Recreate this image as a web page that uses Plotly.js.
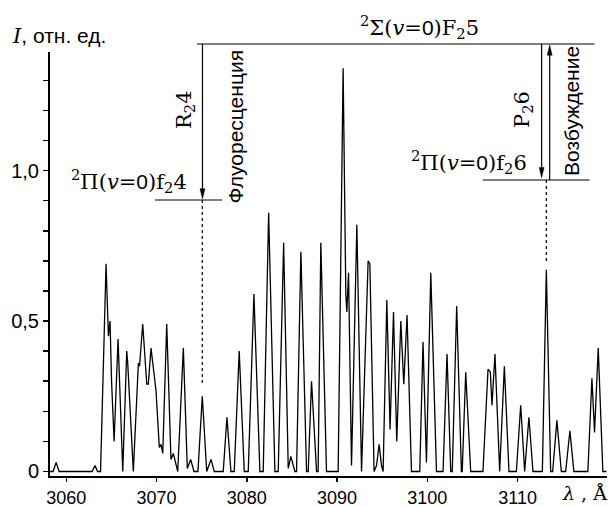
<!DOCTYPE html>
<html>
<head>
<meta charset="utf-8">
<script src="https://cdn.plot.ly/plotly-3.0.1.min.js"></script>
<style>html,body{margin:0;padding:0;background:#fff;}#chart{width:609px;height:507px;}</style>
</head>
<body>
<div id="chart"></div>
<script>
// Wavelength, Å
const wavelength = [3058.21, 3058.54, 3058.88, 3059.21, 3062.86, 3063.19, 3063.47, 3063.80, 3064.41, 3064.67,
  3064.85, 3065.02, 3065.30, 3065.74, 3066.26, 3066.70, 3066.81, 3067.43, 3067.99, 3068.12,
  3068.47, 3068.92, 3069.09, 3069.39, 3069.94, 3070.31, 3070.50, 3070.69, 3071.13, 3071.60,
  3071.86, 3072.35, 3072.97, 3073.41, 3073.78, 3074.15, 3074.59, 3075.07, 3075.56, 3076.03,
  3076.40, 3077.39, 3077.80, 3078.24, 3078.61, 3079.16, 3079.72, 3080.16, 3080.79, 3081.45,
  3081.82, 3082.42, 3083.11, 3083.48, 3084.08, 3084.59, 3084.88, 3085.33, 3085.51, 3085.99,
  3086.62, 3086.80, 3087.17, 3087.73, 3087.90, 3088.20, 3088.83, 3090.12, 3090.67, 3090.97,
  3091.08, 3091.27, 3091.60, 3092.19, 3092.71, 3093.44, 3093.63, 3094.10, 3094.37, 3094.66,
  3094.92, 3095.10, 3095.51, 3095.87, 3096.25, 3096.61, 3097.06, 3097.39, 3097.75, 3098.24,
  3099.16, 3099.52, 3099.90, 3100.38, 3101.01, 3101.74, 3102.18, 3102.59, 3102.76, 3103.25,
  3103.77, 3103.86, 3104.25, 3104.80, 3106.16, 3106.72, 3106.98, 3107.16, 3107.49, 3108.01,
  3108.53, 3109.04, 3109.86, 3110.34, 3110.78, 3111.25, 3111.70, 3112.74, 3113.18, 3113.66,
  3113.88, 3114.35, 3114.84, 3115.32, 3115.79, 3116.23, 3117.78, 3118.23, 3118.52, 3118.93,
  3119.44, 3119.85];
// Intensity, rel. units
const intensity = [0, 0, 0.03, 0, 0, 0.02, 0, 0, 0.69, 0.45,
  0.50, 0.30, 0.10, 0.44, 0, 0.40, 0.36, 0, 0.36, 0.35,
  0.49, 0.29, 0.29, 0.41, 0.27, 0.08, 0.09, 0.06, 0.49, 0.04,
  0.06, 0, 0.41, 0.01, 0.04, 0, 0, 0.25, 0, 0.04,
  0, 0, 0.18, 0, 0, 0.40, 0, 0, 0.59, 0,
  0, 0.86, 0, 0, 0.76, 0.01, 0.05, 0, 0, 0.73,
  0, 0, 0.30, 0, 0, 0.76, 0, 0, 1.34, 0.59,
  0.53, 0.66, 0.02, 0.82, 0, 0.70, 0.69, 0, 0.02, 0.09,
  0.02, 0, 0.57, 0.14, 0.53, 0.10, 0.50, 0.29, 0.52, 0,
  0, 0.43, 0.03, 0.66, 0, 0, 0.39, 0, 0, 0.55,
  0, 0, 0.33, 0, 0, 0.34, 0.33, 0.22, 0.39, 0,
  0.35, 0, 0, 0.22, 0, 0.18, 0, 0, 0.67, 0,
  0, 0.17, 0, 0, 0.135, 0, 0, 0.31, 0.13, 0.41,
  0, 0];

const xTickVals = [3060, 3070, 3080, 3090, 3100, 3110];
const xTickText = ['3060', '3070', '3080', '3090', '3100', '3110'];
const yTickVals = [0, 0.5, 1.0];
const yTickText = ['0', '0,5', '1,0'];

// marked lines (fluorescence / excitation)
const fluorLine = 3075.07;
const excLine = 3113.18;

const SANS = 'Liberation Sans, Arial, sans-serif';
const SERIF = 'DejaVu Serif, Liberation Serif, serif';

const trace = {
  x: wavelength, y: intensity, type: 'scatter', mode: 'lines',
  line: {color: '#000', width: 1.3}, hoverinfo: 'skip'
};

function ln(x0, y0, x1, y1, dash) {
  return {type: 'line', xref: 'x', yref: 'paper', x0: x0, y0: y0, x1: x1, y1: y1,
    line: {color: '#000', width: 1.2, dash: dash || 'solid'}};
}
function head(x, yTip, dir) {
  const w = 0.27, h = 0.024 * dir;
  return {type: 'path', xref: 'x', yref: 'paper',
    path: 'M' + (x - w) + ',' + (yTip + h) + ' L' + (x + w) + ',' + (yTip + h) + ' L' + x + ',' + yTip + ' Z',
    fillcolor: '#000', line: {color: '#000', width: 0.5}};
}
const yTop = 1.0189, yLowF = 0.6509, yLowE = 0.6981;

const shapes = [
  ln(3074.48, yTop, 3118.52, yTop),
  ln(fluorLine + 0.02, yTop, fluorLine + 0.02, 0.67),
  head(fluorLine + 0.02, 0.6535, 1),
  ln(3069.83, yLowF, 3077.25, yLowF),
  ln(fluorLine, yLowF, fluorLine, 0.2146, 'dot'),
  ln(3112.66, yTop, 3112.66, 0.72),
  head(3112.66, 0.7036, 1),
  ln(3113.55, yLowE, 3113.55, 1.0),
  head(3113.55, 1.0165, -1),
  ln(3106.13, yLowE, 3117.97, yLowE),
  ln(excLine, yLowE, excLine, 0.5047, 'dot')
];

const sans0 = '<span style="font-family:Liberation Sans">0</span>';
const annotations = [
  {xref: 'paper', yref: 'paper', x: -0.072, y: 1.0377, xanchor: 'left', yanchor: 'middle', showarrow: false,
   text: '<span style="font-family:DejaVu Serif;font-style:italic">I</span>, отн. ед.',
   font: {family: SANS, size: 21, color: '#000'}},
  {xref: 'paper', yref: 'paper', x: 0.664, y: 1.059, xanchor: 'center', yanchor: 'middle', showarrow: false,
   text: '<sup>2</sup>Σ(<i>v</i>=' + sans0 + ')F<sub>2</sub>5',
   font: {family: SERIF, size: 21, color: '#000'}},
  {xref: 'paper', yref: 'paper', x: 0.1418, y: 0.6958, xanchor: 'center', yanchor: 'middle', showarrow: false,
   text: '<sup>2</sup>Π(<i>v</i>=' + sans0 + ')f<sub>2</sub>4',
   font: {family: SERIF, size: 21, color: '#000'}},
  {xref: 'paper', yref: 'paper', x: 0.7522, y: 0.7406, xanchor: 'center', yanchor: 'middle', showarrow: false,
   text: '<sup>2</sup>Π(<i>v</i>=' + sans0 + ')f<sub>2</sub>6',
   font: {family: SERIF, size: 21, color: '#000'}},
  {xref: 'paper', yref: 'paper', x: 0.2424, y: 0.8632, xanchor: 'center', yanchor: 'middle', showarrow: false,
   textangle: -90, text: 'R<sub>2</sub>4', font: {family: SERIF, size: 21, color: '#000'}},
  {xref: 'paper', yref: 'paper', x: 0.8492, y: 0.8632, xanchor: 'center', yanchor: 'middle', showarrow: false,
   textangle: -90, text: 'P<sub>2</sub>6', font: {family: SERIF, size: 21, color: '#000'}},
  {xref: 'paper', yref: 'paper', x: 0.3339, y: 0.8243, xanchor: 'center', yanchor: 'middle', showarrow: false,
   textangle: -90, text: 'Флуоресценция', font: {family: SANS, size: 21, color: '#000'}},
  {xref: 'paper', yref: 'paper', x: 0.9363, y: 0.8597, xanchor: 'center', yanchor: 'middle', showarrow: false,
   textangle: -90, text: 'Возбуждение', font: {family: SANS, size: 21, color: '#000'}},
  {xref: 'paper', yref: 'paper', x: 0.9605, y: -0.040, xanchor: 'center', yanchor: 'middle', showarrow: false,
   text: '<i>λ</i> , Å', font: {family: SERIF, size: 19, color: '#000'}}
];

const layout = {
  width: 609, height: 507,
  margin: {l: 50, r: 2, t: 52, b: 31, pad: 0},
  paper_bgcolor: '#fff', plot_bgcolor: '#fff',
  showlegend: false,
  xaxis: {
    range: [3058.2, 3119.9], showline: true, linecolor: '#000', linewidth: 2,
    ticks: 'outside', ticklen: 4, tickwidth: 1.5, tickcolor: '#000',
    tickmode: 'array', tickvals: xTickVals, ticktext: xTickText,
    tickfont: {family: SANS, size: 18, color: '#000'},
    showgrid: false, zeroline: false, fixedrange: true
  },
  yaxis: {
    range: [-0.015, 1.394], showline: true, linecolor: '#000', linewidth: 2,
    ticks: 'outside', ticklen: 5, tickwidth: 1.5, tickcolor: '#000',
    tickmode: 'array', tickvals: yTickVals, ticktext: yTickText,
    minor: {tickmode: 'linear', tick0: 0, dtick: 0.1, ticks: 'outside', ticklen: 5, tickwidth: 1.5, tickcolor: '#000', showgrid: false},
    tickfont: {family: SANS, size: 20, color: '#000'},
    showgrid: false, zeroline: false, fixedrange: true
  },
  shapes: shapes,
  annotations: annotations
};

Plotly.newPlot('chart', [trace], layout, {staticPlot: true, displayModeBar: false});
</script>
</body>
</html>
